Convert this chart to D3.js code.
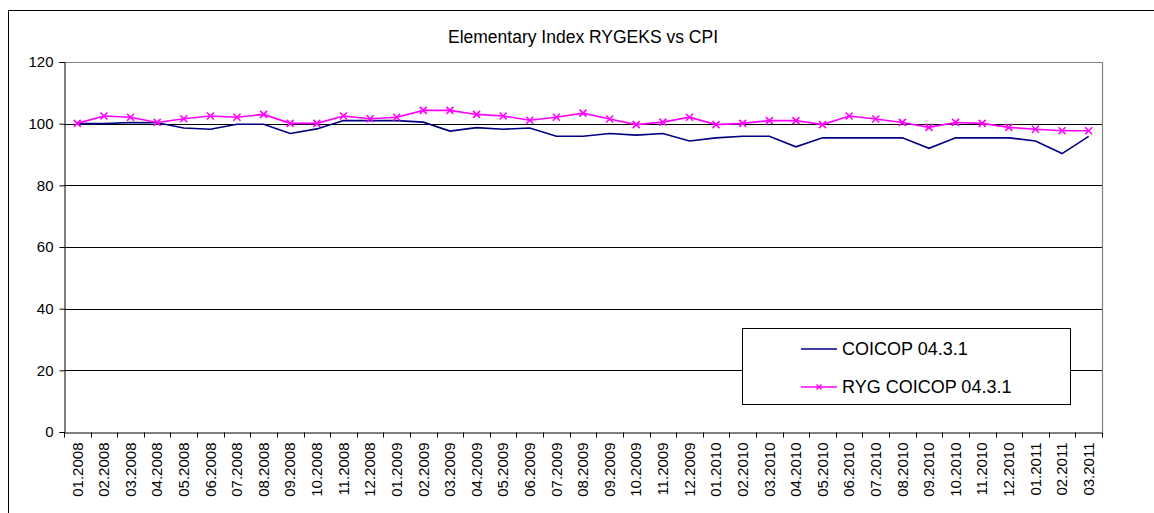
<!DOCTYPE html>
<html><head><meta charset="utf-8">
<script src="https://cdn.jsdelivr.net/npm/d3@7"></script>
<style>body{margin:0;background:#fff}svg{display:block}text{font-family:"Liberation Sans",Arial,sans-serif}</style>
</head><body><svg id="c" width="1154" height="513"></svg>
<script>
const categories = ["01.2008","02.2008","03.2008","04.2008","05.2008","06.2008","07.2008","08.2008","09.2008","10.2008","11.2008","12.2008",
"01.2009","02.2009","03.2009","04.2009","05.2009","06.2009","07.2009","08.2009","09.2009","10.2009","11.2009","12.2009",
"01.2010","02.2010","03.2010","04.2010","05.2010","06.2010","07.2010","08.2010","09.2010","10.2010","11.2010","12.2010",
"01.2011","02.2011","03.2011"];
const coicop = [100,100,100.4,100.3,98.6,98.2,99.8,99.8,96.8,98.3,101.0,101.0,
101.0,100.5,97.6,98.7,98.2,98.6,95.9,95.9,96.8,96.3,96.8,94.4,
95.4,95.9,95.9,92.5,95.4,95.4,95.4,95.4,92.0,95.4,95.4,95.4,
94.4,90.3,95.9];
const ryg = [100.1,102.5,102.1,100.4,101.6,102.5,102.1,103.0,100.1,100.1,102.5,101.6,
102.1,104.3,104.3,103.0,102.5,101.1,102.1,103.4,101.5,99.7,100.5,102.1,
99.7,100.1,101.0,101.0,99.7,102.5,101.5,100.4,98.8,100.4,100.1,98.8,
98.2,97.7,97.7];
const yTicks = [0,20,40,60,80,100,120];
const seriesNames = ["COICOP 04.3.1","RYG COICOP 04.3.1"];
const title = "Elementary Index RYGEKS vs CPI";

const svg = d3.select("#c");
const L=64, R=1102, T=62, B=432;
const x = d3.scaleBand().domain(categories).range([L,R]).paddingInner(0).paddingOuter(0);
const y = d3.scaleLinear().domain([0,120]).range([B,T]);
const cx = d => x(d)+x.bandwidth()/2;

// outer frame
svg.append("rect").attr("x",8.5).attr("y",10.5).attr("width",1160).attr("height",520)
  .attr("fill","none").attr("stroke","#000").attr("stroke-width",1);

// title
svg.append("text").attr("x",583).attr("y",43).attr("text-anchor","middle")
  .attr("font-size",17.5).attr("fill","#000").text(title);

// gridlines
svg.append("g").selectAll("line").data(yTicks.filter(v=>v>0&&v<120)).join("line")
  .attr("x1",L).attr("x2",R).attr("y1",d=>Math.round(y(d))+0.5).attr("y2",d=>Math.round(y(d))+0.5)
  .attr("stroke","#000").attr("stroke-width",1);
// plot border top/right (gray)
svg.append("path").attr("d",`M${L},${Math.round(T)+0.5}H${R+0.5}V${B}`).attr("fill","none").attr("stroke","#808080").attr("stroke-width",1.2);

// y axis
const ya = svg.append("g").attr("transform",`translate(${L+0.5},0)`)
  .call(d3.axisLeft(y).tickValues(yTicks).tickSize(5).tickPadding(6).tickFormat(d3.format("d")));
ya.select(".domain").attr("stroke","#000");
ya.selectAll(".tick line").attr("stroke","#000");
ya.selectAll("text").attr("font-size",15).attr("fill","#000").attr("font-family","Liberation Sans, Arial, sans-serif");

// x axis
const xa = svg.append("g").attr("transform",`translate(0,${B+0.5})`)
  .call(d3.axisBottom(x).tickSize(0).tickSizeOuter(0));
xa.select(".domain").attr("stroke","#000");
xa.selectAll("text").attr("font-size",15).attr("fill","#000").attr("font-family","Liberation Sans, Arial, sans-serif")
  .attr("text-anchor","end").attr("transform","rotate(-90)").attr("x",-10).attr("y",0).attr("dy","0.35em");
// boundary ticks
xa.append("g").selectAll("line").data(categories.map(c=>x(c)).concat([R])).join("line")
  .attr("x1",d=>Math.round(d)+0.5).attr("x2",d=>Math.round(d)+0.5).attr("y1",0).attr("y2",5).attr("stroke","#000");

// lines
const line = d3.line().x((d,i)=>cx(categories[i])).y(d=>y(d));
svg.append("path").datum(coicop).attr("d",line).attr("fill","none").attr("stroke","#000080").attr("stroke-width",1.6);
svg.append("path").datum(ryg).attr("d",line).attr("fill","none").attr("stroke","#FF00FF").attr("stroke-width",1.6);
const m=3.5;
svg.append("g").selectAll("path").data(ryg).join("path")
  .attr("d",(d,i)=>{const px=cx(categories[i]),py=y(d);return `M${px-m},${py-m}L${px+m},${py+m}M${px-m},${py+m}L${px+m},${py-m}`;})
  .attr("stroke","#FF00FF").attr("stroke-width",1.6).attr("fill","none");

// legend
const lg = svg.append("g");
lg.append("rect").attr("x",742.5).attr("y",328.5).attr("width",328).attr("height",76)
  .attr("fill","#fff").attr("stroke","#000").attr("stroke-width",1);
const rows=[349,387];
lg.append("line").attr("x1",801).attr("x2",837).attr("y1",rows[0]).attr("y2",rows[0]).attr("stroke","#000080").attr("stroke-width",1.6);
lg.append("line").attr("x1",801).attr("x2",837).attr("y1",rows[1]).attr("y2",rows[1]).attr("stroke","#FF00FF").attr("stroke-width",1.6);
lg.append("path").attr("d",`M${819-2.5},${rows[1]-2.5}L${819+2.5},${rows[1]+2.5}M${819-2.5},${rows[1]+2.5}L${819+2.5},${rows[1]-2.5}`)
  .attr("stroke","#FF00FF").attr("stroke-width",1.4);
lg.selectAll("text").data(seriesNames).join("text").attr("x",842).attr("y",(d,i)=>rows[i]+6)
  .attr("font-size",18).attr("fill","#000").text(d=>d);
</script></body></html>
